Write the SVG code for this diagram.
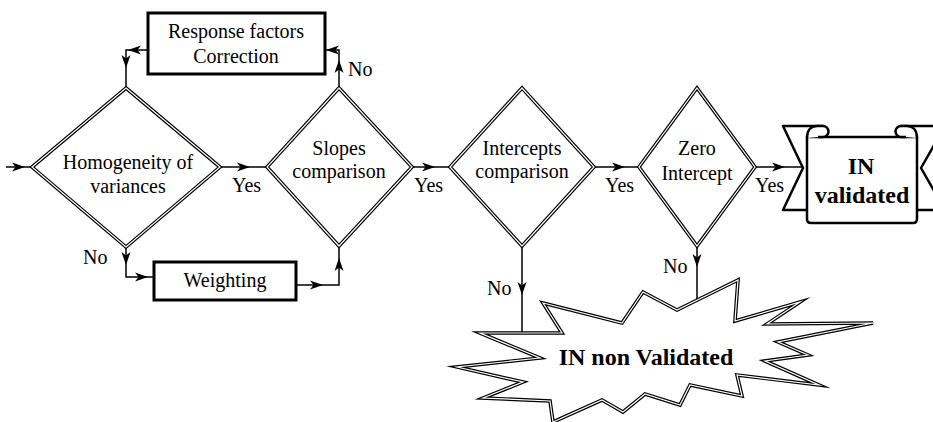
<svg xmlns="http://www.w3.org/2000/svg" xmlns:xlink="http://www.w3.org/1999/xlink" width="933" height="422" viewBox="0 0 933 422">
<style>
  text { font-family: "Liberation Serif", "Times New Roman", serif; font-size: 20px; fill: #000; }
  .c { text-anchor: middle; }
  .b { font-weight: bold; font-size: 24px; }
  .dOut { fill: #fff; stroke: #000; stroke-width: 3.6; stroke-linejoin: miter; stroke-miterlimit: 10; }
  .dIn { fill: none; stroke: #fff; stroke-width: 1.2; stroke-linejoin: miter; stroke-miterlimit: 10; }
  .box { fill: #fff; stroke: #000; stroke-width: 3; }
  .ban { fill: #fff; stroke: #000; stroke-width: 2.5; stroke-linejoin: round; }
  .ln { fill: none; stroke: #000; stroke-width: 1.5; }
  .ah { fill: #000; stroke: none; }
</style>
<defs>
  <path id="arrow" class="ah" d="M0,0 L-13,-4.5 L-9.5,0 L-13,4.5 Z"/>
</defs>
<rect width="933" height="422" fill="#fff"/>

<g id="connectors">
  <path class="ln" d="M6,167 H32"/>
  <path class="ln" d="M220,167 H267"/>
  <path class="ln" d="M126,247 V277 H154"/>
  <path class="ln" d="M296,285 H339 V246"/>
  <path class="ln" d="M339,88 V50 H325"/>
  <path class="ln" d="M148,50 H126 V88"/>
  <path class="ln" d="M412,167 H450"/>
  <path class="ln" d="M594,167 H639"/>
  <path class="ln" d="M755,167 H803"/>
  <path class="ln" d="M522,246 V333"/>
  <path class="ln" d="M697,246 V300"/>
  <use xlink:href="#arrow" href="#arrow" transform="translate(25,167)"/>
  <use xlink:href="#arrow" href="#arrow" transform="translate(250,167)"/>
  <use xlink:href="#arrow" href="#arrow" transform="translate(126,265) rotate(90)"/>
  <use xlink:href="#arrow" href="#arrow" transform="translate(148,277)"/>
  <use xlink:href="#arrow" href="#arrow" transform="translate(323,285)"/>
  <use xlink:href="#arrow" href="#arrow" transform="translate(339,258) rotate(-90)"/>
  <use xlink:href="#arrow" href="#arrow" transform="translate(339,60) rotate(-90)"/>
  <use xlink:href="#arrow" href="#arrow" transform="translate(326,50) rotate(180)"/>
  <use xlink:href="#arrow" href="#arrow" transform="translate(128,50) rotate(180)"/>
  <use xlink:href="#arrow" href="#arrow" transform="translate(126,68) rotate(90)"/>
  <use xlink:href="#arrow" href="#arrow" transform="translate(435,167)"/>
  <use xlink:href="#arrow" href="#arrow" transform="translate(625,167)"/>
  <use xlink:href="#arrow" href="#arrow" transform="translate(785,167)"/>
  <use xlink:href="#arrow" href="#arrow" transform="translate(522,295) rotate(90)"/>
  <use xlink:href="#arrow" href="#arrow" transform="translate(697,267) rotate(90)"/>
  <text x="232" y="192">Yes</text>
  <text x="414" y="192">Yes</text>
  <text x="605" y="192">Yes</text>
  <text x="755" y="192">Yes</text>
  <text x="83" y="264">No</text>
  <text x="348" y="76">No</text>
  <text x="487" y="295">No</text>
  <text x="663" y="273">No</text>
</g>

<g id="response">
  <rect class="box" x="148" y="13" width="177" height="61"/>
  <text class="c" x="236" y="38">Response factors</text>
  <text class="c" x="236" y="63">Correction</text>
</g>

<g id="homogeneity">
  <polygon class="dOut" points="126,88 220,167 126,247 32,167"/>
  <polygon class="dIn" points="126,88 220,167 126,247 32,167"/>
  <text class="c" x="128" y="169">Homogeneity of</text>
  <text class="c" x="128" y="193">variances</text>
</g>

<g id="weighting">
  <rect class="box" x="154" y="262" width="142" height="38"/>
  <text class="c" x="225" y="287">Weighting</text>
</g>

<g id="slopes">
  <polygon class="dOut" points="339,88 412,167 339,246 267,167"/>
  <polygon class="dIn" points="339,88 412,167 339,246 267,167"/>
  <text class="c" x="339" y="155">Slopes</text>
  <text class="c" x="339" y="178">comparison</text>
</g>

<g id="intercepts">
  <polygon class="dOut" points="522,88 594,167 522,246 450,167"/>
  <polygon class="dIn" points="522,88 594,167 522,246 450,167"/>
  <text class="c" x="522" y="155">Intercepts</text>
  <text class="c" x="522" y="178">comparison</text>
</g>

<g id="zero">
  <polygon class="dOut" points="697,88 755,167 697,246 639,167"/>
  <polygon class="dIn" points="697,88 755,167 697,246 639,167"/>
  <text class="c" x="697" y="155">Zero</text>
  <text class="c" x="697" y="180">Intercept</text>
</g>

<g id="validated">
  <path class="ban" d="M823,126 H783 L803,168 L783,210 H808 V137 Z"/>
  <path class="ban" d="M901,126 H945 L921,168 L945,210 H916 V137 Z"/>
  <path class="ban" d="M807,137 H917 V219 Q917,223 913,223 H811 Q807,223 807,219 Z"/>
  <path class="ban" d="M807,138 C807,130 811,126 817,126 H823 A5.5,5.5 0 0 1 823,137 H818"/>
  <path class="ban" d="M917,138 C917,130 913,126 907,126 H901 A5.5,5.5 0 0 0 901,137 H906"/>
  <text class="c b" x="861" y="174">IN</text>
  <text class="c b" x="862" y="203">validated</text>
</g>

<g id="nonvalidated">
  <polygon class="dOut" points="543,303 622,323 643,292 677,310 738,280 735,321 800,302 767,324 873,323 778,342 808,355 765,361 819,385 737,375 742,396 690,385 680,405 645,394 623,412 602,400 553,422 550,401 483,398 523,382 457,367 540,358 480,333 562,333"/>
  <polygon class="dIn" points="543,303 622,323 643,292 677,310 738,280 735,321 800,302 767,324 873,323 778,342 808,355 765,361 819,385 737,375 742,396 690,385 680,405 645,394 623,412 602,400 553,422 550,401 483,398 523,382 457,367 540,358 480,333 562,333"/>
  <text class="c b" x="646" y="365">IN non Validated</text>
</g>
</svg>
